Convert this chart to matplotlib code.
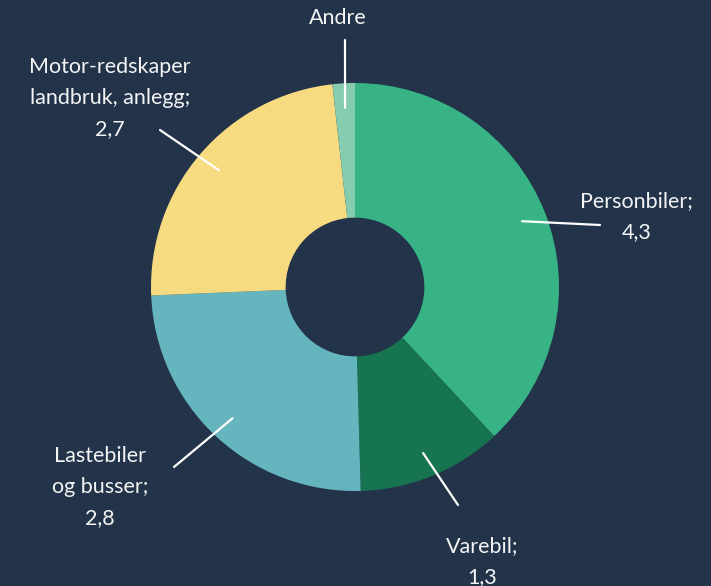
import numpy as np
import matplotlib.pyplot as plt

# Data
categories = ['Personbiler', 'Varebil', 'Lastebiler og busser', 'Motor-redskaper landbruk, anlegg', 'Andre']
values = [4.3, 1.3, 2.8, 2.7, 0.2]
labels = ['Personbiler;\n4,3', 'Varebil;\n1,3', 'Lastebiler\nog busser;\n2,8',
          'Motor-redskaper\nlandbruk, anlegg;\n2,7', 'Andre']
colors = ['#37b385', '#177451', '#65b5be', '#f7db80', '#86cdb0']

bg = '#22334a'
W, H = 711, 586

# layout in pixel coords (y measured from top)
cx, cy, R = 355, 287, 204
label_pos = [(637, 217), (482, 562), (100, 487), (110, 98), (338, 18)]
line_end = [(600, 225), (458, 505), (174, 467), (160, 130), (345, 40)]

plt.rcParams['font.family'] = ['Lato', 'DejaVu Sans']

fig = plt.figure(figsize=(W / 100, H / 100), dpi=100, facecolor=bg)
ax = fig.add_axes([0, 0, 1, 1])
ax.set_facecolor(bg)

wedges, _ = ax.pie(values, colors=colors, startangle=90, counterclock=False,
                   center=(cx, H - cy), radius=R,
                   wedgeprops=dict(width=R * 0.66, linewidth=0), frame=True)
ax.set_xlim(0, W)
ax.set_ylim(0, H)
ax.set_aspect('equal')
ax.axis('off')

for w, lab, (tx, ty), (ex, ey) in zip(wedges, labels, label_pos, line_end):
    ang = np.deg2rad((w.theta1 + w.theta2) / 2)
    px = cx + 0.88 * R * np.cos(ang)
    py = (H - cy) + 0.88 * R * np.sin(ang)
    ax.plot([px, ex], [py, H - ey], color='white', lw=1.6, solid_capstyle='round')
    ax.text(tx, H - ty, lab, color='#f4f4f4', fontsize=15.5,
            ha='center', va='center', linespacing=1.68)

fig.savefig('out.png', dpi=100, facecolor=bg)
